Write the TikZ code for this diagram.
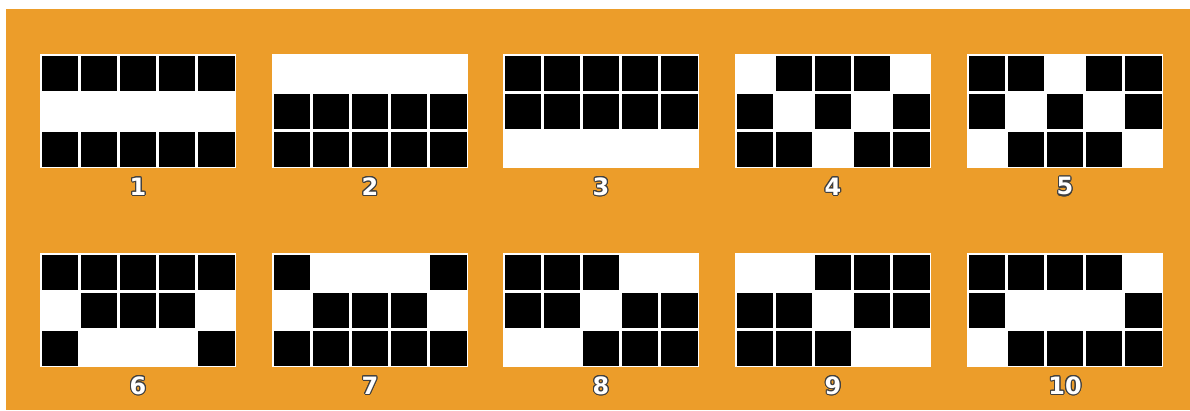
\documentclass[tikz,border=0pt]{standalone}
\usepackage{xcolor}
\usepackage{fontspec}
\usepackage{contour}
\newfontfamily\digitfont{DejaVu Sans}
\contourlength{0.8pt}
\definecolor{bgorange}{RGB}{236,157,42}

\begin{document}
\begin{tikzpicture}[x=0.025cm, y=-0.025cm, font=\digitfont\bfseries\fontsize{17}{17}\selectfont,
  panel/.style={fill=white},
  cell/.style={fill=black},
  numlabel/.style={text=white, inner sep=0pt}]
\useasboundingbox (0,0) rectangle (1190,410);
\fill[white] (0,0) rectangle (1190,410);
\fill[bgorange] (6,9) rectangle (1190,410);
% one panel: 5 x 3 cells, 1 = black
\foreach \num/\px/\py/\cells in {
  1/40/54/{1,1,1,1,1,0,0,0,0,0,1,1,1,1,1},
  2/272/54/{0,0,0,0,0,1,1,1,1,1,1,1,1,1,1},
  3/503/54/{1,1,1,1,1,1,1,1,1,1,0,0,0,0,0},
  4/735/54/{0,1,1,1,0,1,0,1,0,1,1,1,0,1,1},
  5/967/54/{1,1,0,1,1,1,0,1,0,1,0,1,1,1,0},
  6/40/253/{1,1,1,1,1,0,1,1,1,0,1,0,0,0,1},
  7/272/253/{1,0,0,0,1,0,1,1,1,0,1,1,1,1,1},
  8/503/253/{1,1,1,0,0,1,1,0,1,1,0,0,1,1,1},
  9/735/253/{0,0,1,1,1,1,1,0,1,1,1,1,1,0,0},
  10/967/253/{1,1,1,1,0,1,0,0,0,1,0,1,1,1,1}} {
  \fill[panel] (\px,\py) rectangle ++(196,114);
  \foreach \b [count=\k from 0] in \cells {
    \pgfmathtruncatemacro{\ci}{mod(\k,5)}
    \pgfmathtruncatemacro{\ri}{int(\k/5)}
    \ifnum\b=1
      \fill[cell] (\px+1.5+39.2*\ci,\py+1.5+38*\ri) rectangle ++(36.2,35);
    \fi
  }
  \node[numlabel] (lab\num) at (\px+98,\py+133) {\contour{black!75}{\num}};
}
\end{tikzpicture}
\end{document}
